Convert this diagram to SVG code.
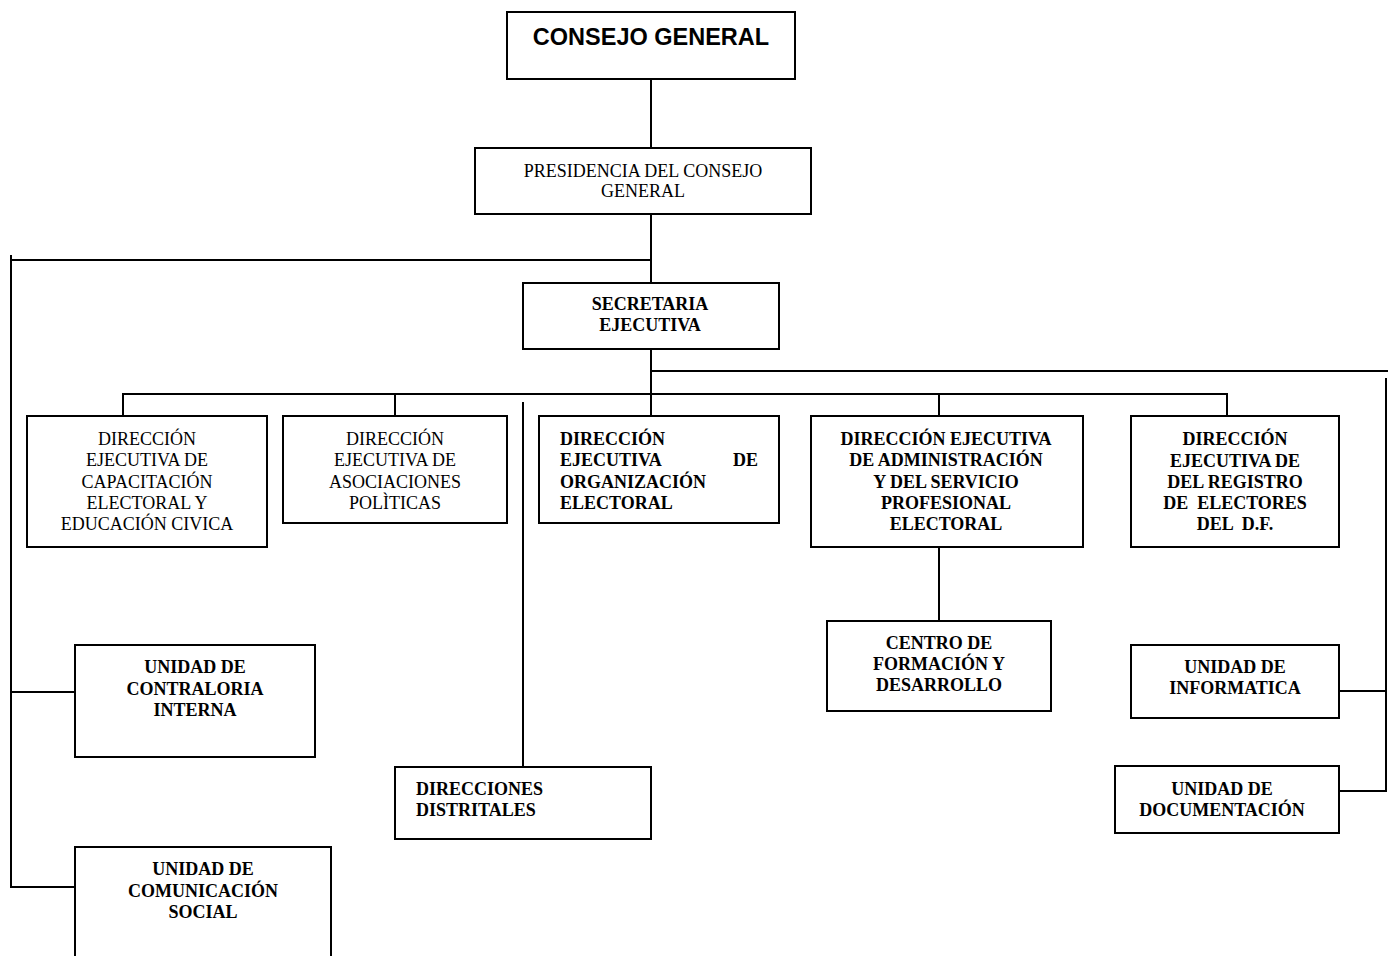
<svg xmlns="http://www.w3.org/2000/svg" width="1390" height="956" viewBox="0 0 1390 956">
<style>
.box{fill:#fff;stroke:#000;stroke-width:2}
.ln{stroke:#000;stroke-width:2;fill:none}
.t{font-family:"Liberation Serif","Times New Roman",serif;font-size:18px;fill:#000;text-anchor:middle}
.b{font-weight:bold}
.l{text-anchor:start}
.e{text-anchor:end}
.h{font-family:"Liberation Sans",Arial,sans-serif;font-size:23.5px;font-weight:bold;fill:#000;text-anchor:middle}
</style>
<rect width="1390" height="956" fill="#fff"/>
<g id="connectors">
<line class="ln" x1="651" y1="79" x2="651" y2="148"/>
<line class="ln" x1="651" y1="214" x2="651" y2="283"/>
<line class="ln" x1="11" y1="260" x2="651" y2="260"/>
<line class="ln" x1="11" y1="255" x2="11" y2="888"/>
<line class="ln" x1="11" y1="692" x2="75" y2="692"/>
<line class="ln" x1="11" y1="887" x2="75" y2="887"/>
<line class="ln" x1="651" y1="349" x2="651" y2="416"/>
<line class="ln" x1="651" y1="371" x2="1388" y2="371"/>
<line class="ln" x1="1386" y1="378" x2="1386" y2="792"/>
<line class="ln" x1="1339" y1="691" x2="1386" y2="691"/>
<line class="ln" x1="1339" y1="791" x2="1386" y2="791"/>
<line class="ln" x1="122" y1="394" x2="1227" y2="394"/>
<line class="ln" x1="123" y1="394" x2="123" y2="416"/>
<line class="ln" x1="395" y1="394" x2="395" y2="416"/>
<line class="ln" x1="939" y1="394" x2="939" y2="416"/>
<line class="ln" x1="1227" y1="393" x2="1227" y2="416"/>
<line class="ln" x1="523" y1="402" x2="523" y2="767"/>
<line class="ln" x1="939" y1="547" x2="939" y2="621"/>
</g>
<g id="consejo">
<rect class="box" x="507" y="12" width="288" height="67"/>
<text class="h" x="651" y="45">CONSEJO GENERAL</text>
</g>
<g id="presidencia">
<rect class="box" x="475" y="148" width="336" height="66"/>
<text class="t" x="643" y="177">PRESIDENCIA DEL CONSEJO</text>
<text class="t" x="643" y="197">GENERAL</text>
</g>
<g id="secretaria">
<rect class="box" x="523" y="283" width="256" height="66"/>
<text class="t b" x="650" y="310">SECRETARIA</text>
<text class="t b" x="650" y="331">EJECUTIVA</text>
</g>
<g id="capacitacion">
<rect class="box" x="27" y="416" width="240" height="131"/>
<text class="t" x="147" y="445">DIRECCIÓN</text>
<text class="t" x="147" y="466">EJECUTIVA DE</text>
<text class="t" x="147" y="487.5">CAPACITACIÓN</text>
<text class="t" x="147" y="509">ELECTORAL Y</text>
<text class="t" x="147" y="530">EDUCACIÓN CIVICA</text>
</g>
<g id="asociaciones">
<rect class="box" x="283" y="416" width="224" height="107"/>
<text class="t" x="395" y="445">DIRECCIÓN</text>
<text class="t" x="395" y="466">EJECUTIVA DE</text>
<text class="t" x="395" y="487.5">ASOCIACIONES</text>
<text class="t" x="395" y="509">POLÌTICAS</text>
</g>
<g id="organizacion">
<rect class="box" x="539" y="416" width="240" height="107"/>
<text class="t b l" x="560" y="445">DIRECCIÓN</text>
<text class="t b l" x="560" y="466">EJECUTIVA</text>
<text class="t b e" x="758" y="466">DE</text>
<text class="t b l" x="560" y="487.5">ORGANIZACIÓN</text>
<text class="t b l" x="560" y="509">ELECTORAL</text>
</g>
<g id="administracion">
<rect class="box" x="811" y="416" width="272" height="131"/>
<text class="t b" x="946" y="445">DIRECCIÓN EJECUTIVA</text>
<text class="t b" x="946" y="466">DE ADMINISTRACIÓN</text>
<text class="t b" x="946" y="487.5">Y DEL SERVICIO</text>
<text class="t b" x="946" y="509">PROFESIONAL</text>
<text class="t b" x="946" y="530">ELECTORAL</text>
</g>
<g id="registro">
<rect class="box" x="1131" y="416" width="208" height="131"/>
<text class="t b" x="1235" y="445">DIRECCIÓN</text>
<text class="t b" x="1235" y="466.5">EJECUTIVA DE</text>
<text class="t b" x="1235" y="487.5">DEL REGISTRO</text>
<text class="t b" x="1235" y="509" xml:space="preserve">DE  ELECTORES</text>
<text class="t b" x="1235" y="530" xml:space="preserve">DEL  D.F.</text>
</g>
<g id="centro">
<rect class="box" x="827" y="621" width="224" height="90"/>
<text class="t b" x="939" y="648.5">CENTRO DE</text>
<text class="t b" x="939" y="670">FORMACIÓN Y</text>
<text class="t b" x="939" y="691">DESARROLLO</text>
</g>
<g id="informatica">
<rect class="box" x="1131" y="645" width="208" height="73"/>
<text class="t b" x="1235" y="673">UNIDAD DE</text>
<text class="t b" x="1235" y="694">INFORMATICA</text>
</g>
<g id="documentacion">
<rect class="box" x="1115" y="766" width="224" height="67"/>
<text class="t b" x="1222" y="795">UNIDAD DE</text>
<text class="t b" x="1222" y="815.5">DOCUMENTACIÓN</text>
</g>
<g id="contraloria">
<rect class="box" x="75" y="645" width="240" height="112"/>
<text class="t b" x="195" y="673">UNIDAD DE</text>
<text class="t b" x="195" y="694.5">CONTRALORIA</text>
<text class="t b" x="195" y="716">INTERNA</text>
</g>
<g id="distritales">
<rect class="box" x="395" y="767" width="256" height="72"/>
<text class="t b l" x="416" y="795">DIRECCIONES</text>
<text class="t b l" x="416" y="815.5">DISTRITALES</text>
</g>
<g id="comunicacion">
<rect class="box" x="75" y="847" width="256" height="120"/>
<text class="t b" x="203" y="875">UNIDAD DE</text>
<text class="t b" x="203" y="896.5">COMUNICACIÓN</text>
<text class="t b" x="203" y="917.5">SOCIAL</text>
</g>
</svg>
